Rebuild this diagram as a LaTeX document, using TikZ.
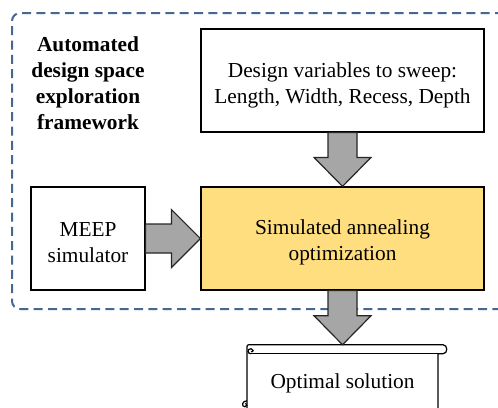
\documentclass[tikz,border=0pt]{standalone}
\usepackage{fontspec}
\setmainfont{Liberation Serif}
\usetikzlibrary{calc}
\definecolor{safill}{RGB}{255,222,128}
\definecolor{arrowgray}{RGB}{166,166,166}
\definecolor{frameblue}{RGB}{68,104,145}

\begin{document}
\begin{tikzpicture}[x=0.75pt,y=-0.75pt,
  font=\fontsize{16pt}{19.5pt}\selectfont,
  box/.style={draw=black, line width=0.9pt, inner sep=0pt},
  boxtext/.style={align=center, inner sep=0pt},
  blockarrow/.style={draw=black!85, line width=0.9pt, fill=arrowgray, line join=miter},
  groupframe/.style={draw=frameblue, line width=1.5pt, dash pattern=on 6.75pt off 4pt,
                     rounded corners=6pt, inner sep=0pt},
  scrolline/.style={draw=black, line width=0.9pt}]
\useasboundingbox (0,0) rectangle (498,407);

% dashed group frame around the exploration framework
\node[groupframe, minimum width=375pt, minimum height=222pt] (frame) at (262,161) {};

% framework title
\node[align=center, font=\fontsize{16pt}{19.5pt}\selectfont\bfseries] (title) at (88,83)
  {Automated\\design space\\exploration\\framework};

% blocks
\node[box, fill=white, minimum width=212.25pt, minimum height=77.25pt] (design) at (342.5,80.5) {};
\node[boxtext] (designtext) at ($(design.center)+(0,5)$)
  {Design variables to sweep:\\Length, Width, Recess, Depth};
\node[box, fill=safill, minimum width=212.25pt, minimum height=77.25pt] (sa) at (342.5,238.5) {};
\node[boxtext] (satext) at ($(sa.center)+(0,4)$)
  {Simulated annealing\\optimization};
\node[box, fill=white, minimum width=85.5pt, minimum height=77.25pt] (meep) at (88,238.5) {};
\node[boxtext] (meeptext) at ($(meep.center)+(0,4)$)
  {MEEP\\simulator};

% result scroll
\node[inner sep=0pt, minimum width=143.25pt, minimum height=54pt] (opt) at (342.5,381) {};
\node[boxtext] (opttext) at ($(opt.center)+(0,2)$) {Optimal solution};
\begin{scope}[shift={(opt.north)}]
  \draw[scrolline] (-95.5,75) -- (-95.5,4) .. controls (-95.5,0) .. (-91.5,0)
     -- (100.5,0) .. controls (105.5,0) and (105.5,9) .. (100.5,9)
     -- (95.5,9) -- (95.5,75);
  \draw[scrolline] (-91.5,9) -- (95.5,9);
  \draw[scrolline] (-91.5,9) .. controls (-95.5,9) and (-95.5,4) .. (-91.5,4)
     .. controls (-89,4) and (-88.5,7.5) .. (-91.5,7);
  \draw[scrolline] (-95.5,56) .. controls (-100.5,56) and (-101.5,62) .. (-97.5,62)
     .. controls (-95.5,62) and (-95,59) .. (-97,58.5);
\end{scope}

% block arrows
\draw[blockarrow] ($(design.south)+(-14.5,0)$) -- ($(sa.north)+(-14.5,-29)$)
  -- ($(sa.north)+(-28.5,-29)$) -- (sa.north) -- ($(sa.north)+(28.5,-29)$)
  -- ($(sa.north)+(14.5,-29)$) -- ($(design.south)+(14.5,0)$) -- cycle;
\draw[blockarrow] ($(meep.east)+(0,-14.5)$) -- ($(sa.west)+(-29,-14.5)$)
  -- ($(sa.west)+(-29,-29)$) -- (sa.west) -- ($(sa.west)+(-29,29)$)
  -- ($(sa.west)+(-29,14.5)$) -- ($(meep.east)+(0,14.5)$) -- cycle;
\draw[blockarrow] ($(sa.south)+(-14.5,0)$) -- ($(opt.north)+(-14.5,-29)$)
  -- ($(opt.north)+(-28.5,-29)$) -- (opt.north) -- ($(opt.north)+(28.5,-29)$)
  -- ($(opt.north)+(14.5,-29)$) -- ($(sa.south)+(14.5,0)$) -- cycle;
\end{tikzpicture}
\end{document}
